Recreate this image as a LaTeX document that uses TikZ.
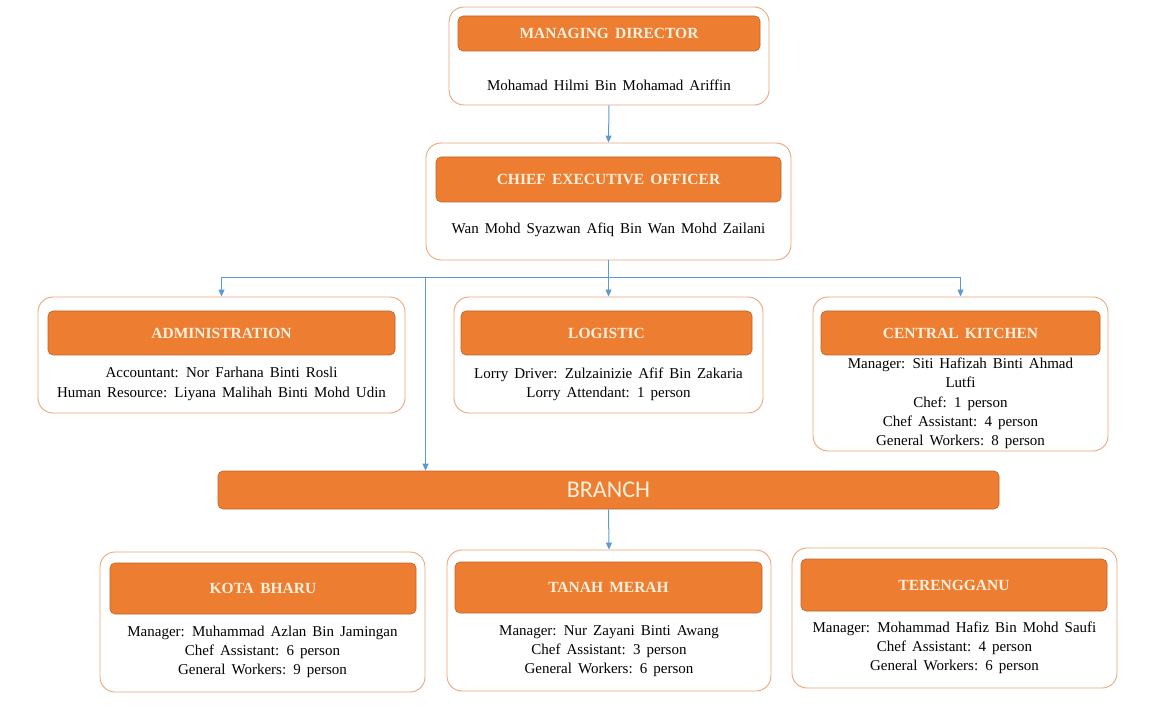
\documentclass[tikz,border=0pt]{standalone}
\usepackage{fontspec}
\setmainfont[WordSpace=1.6]{Liberation Serif}
\newfontfamily\calibri{Carlito}
\usetikzlibrary{arrows.meta}
\definecolor{orgfill}{HTML}{ED7D31}
\definecolor{orgdark}{HTML}{C0652A}
\definecolor{orgline}{HTML}{EBA57A}
\definecolor{headtxt}{HTML}{FDF0DC}
\definecolor{linkblue}{HTML}{5B9BD5}

\begin{document}
\begin{tikzpicture}[
    x=1pt, y=-1pt,
    panel/.style={draw=orgline, line width=0.9pt, fill=white, rounded corners=15pt},
    head/.style={draw=orgdark, line width=0.6pt, fill=orgfill, rounded corners=5pt,
      text=headtxt, font=\fontsize{15.5}{17}\selectfont\bfseries},
    info/.style={align=center, inner sep=0pt, font=\fontsize{15}{19.3}\selectfont},
    link/.style={draw=linkblue, line width=1pt, -{Triangle[width=6pt,length=7pt]}},
    ]
    \useasboundingbox (0,0) rectangle (1157,719);
    % managing director
    \node[panel, minimum width=320pt, minimum height=98pt] (md) at (609,56) {};
    \node[head, minimum width=302pt, minimum height=35pt] (mdh) at (609,33.5) {MANAGING DIRECTOR};
    \node[info] (mdn) at (609,85) {Mohamad Hilmi Bin Mohamad Ariffin};
    % chief executive officer
    \node[panel, minimum width=365pt, minimum height=117pt] (ceo) at (608.5,201.5) {};
    \node[head, minimum width=345pt, minimum height=45pt] (ceoh) at (608.5,179.5) {CHIEF EXECUTIVE OFFICER};
    \node[info] (ceon) at (608.5,230) {Wan Mohd Syazwan Afiq Bin Wan Mohd Zailani};
    % departments
    \node[panel, minimum width=367pt, minimum height=116pt] (adm) at (221.5,355) {};
    \node[head, minimum width=347pt, minimum height=44pt] (admh) at (221.5,333) {ADMINISTRATION};
    \node[info] (admn) at (221.5,384) {Accountant: Nor Farhana Binti Rosli\\
      Human Resource: Liyana Malihah Binti Mohd Udin};
    \node[panel, minimum width=309pt, minimum height=116pt] (log) at (608.5,355) {};
    \node[head, minimum width=291pt, minimum height=44pt] (logh) at (606.5,333) {LOGISTIC};
    \node[info] (logn) at (608.5,384.5) {Lorry Driver: Zulzainizie Afif Bin Zakaria\\
      Lorry Attendant: 1 person};
    \node[panel, minimum width=295pt, minimum height=154pt] (kit) at (960.5,374) {};
    \node[head, minimum width=279pt, minimum height=44pt] (kith) at (960.5,333) {CENTRAL KITCHEN};
    \node[info] (kitn) at (960.5,403.5) {Manager: Siti Hafizah Binti Ahmad\\ Lutfi\\
      Chef: 1 person\\ Chef Assistant: 4 person\\ General Workers: 8 person};
    % branch
    \node[head, font=\calibri\fontsize{24}{26}\selectfont, minimum width=781pt, minimum height=38pt] (branch) at (608.5,490) {BRANCH};
    \node[panel, minimum width=325pt, minimum height=140pt] (kb) at (262.5,622) {};
    \node[head, minimum width=306pt, minimum height=51pt] (kbh) at (263,588.5) {KOTA BHARU};
    \node[info] (kbn) at (262.5,652) {Manager: Muhammad Azlan Bin Jamingan\\
      Chef Assistant: 6 person\\ General Workers: 9 person};
    \node[panel, minimum width=324pt, minimum height=141pt] (tm) at (609,620.5) {};
    \node[head, minimum width=307pt, minimum height=51pt] (tmh) at (608.5,587.5) {TANAH MERAH};
    \node[info] (tmn) at (609,651) {Manager: Nur Zayani Binti Awang\\
      Chef Assistant: 3 person\\ General Workers: 6 person};
    \node[panel, minimum width=325pt, minimum height=140pt] (tr) at (954.5,618) {};
    \node[head, minimum width=306pt, minimum height=52pt] (trh) at (954,585) {TERENGGANU};
    \node[info] (trn) at (954.5,648) {Manager: Mohammad Hafiz Bin Mohd Saufi\\
      Chef Assistant: 4 person\\ General Workers: 6 person};
    % connectors
    \coordinate (bus) at (608.5,278);
    \draw[link] (md.south) -- (ceo.north);
    \draw[draw=linkblue, line width=1pt] (ceo.south) -- (bus);
    \draw[link] (bus) -| (adm.north);
    \draw[link] (bus) -- (log.north);
    \draw[link] (bus) -| (kit.north);
    \draw[link] (bus -| ceo.west) -- (ceo.west |- branch.north);
    \draw[link] (branch.south) -- (tm.north);
\end{tikzpicture}
\end{document}
